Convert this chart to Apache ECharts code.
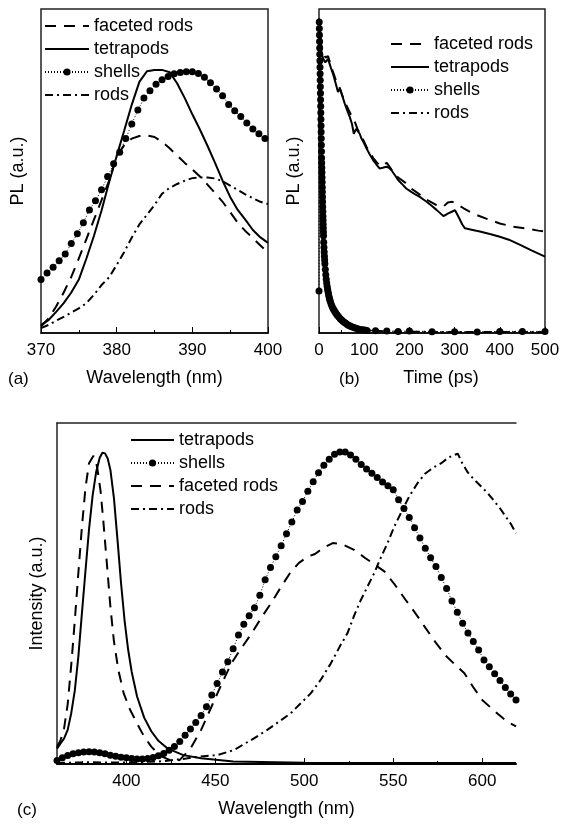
<!DOCTYPE html>
<html><head><meta charset="utf-8">
<script src="https://cdn.jsdelivr.net/npm/echarts@6/dist/echarts.min.js"></script>
<style>html,body{margin:0;padding:0;background:#fff}#c{width:569px;height:825px}</style>
</head><body><div id="c"></div>
<script>
// ---------- panel (a): PL spectra, 370-400 nm ----------
const aWl = [370,371,372,373,374,375,376,377,378,379,380,381,382,383,384,385,386,387,388,389,390,391,392,393,394,395,396,397,398,399,400];
const aFaceted = [2.0,4.5,8.2,12.5,17.3,23,29,35,41,47,54.5,58,60,60.8,61,60.5,59,57,54.8,52.5,50.5,48.3,45.8,43.2,40.5,37.3,34,31.5,29.3,27,24.8];
const aTetra = [2.5,4,6.5,9.2,12.5,16.5,23,30,37.8,46.5,54.6,62.5,70.5,77.5,80.8,81.2,81.2,80.5,77,72.5,67.5,62.8,57.8,52.5,47,42,38,35,31.8,29.5,27.8];
const aRods = [1.5,2.5,3.8,5.0,6.3,7.6,9.2,11.8,14.8,17.2,21,25,29.5,33.5,36.5,39.5,43,44.8,46,47,47.8,48,48,47.7,46.8,45.5,44.2,42.8,41.6,40.5,39.8];
const aShellWl = [370.0,370.8,371.6,372.4,373.2,374.0,374.8,375.6,376.4,377.2,378.0,378.8,379.6,380.4,381.2,382.0,382.8,383.6,384.4,385.2,386.0,386.8,387.6,388.4,389.2,390.0,390.8,391.6,392.4,393.2,394.0,394.8,395.6,396.4,397.2,398.0,398.8,399.6];
const aShell = [16.5,18.5,20.3,22.3,24.4,27.6,30.6,34.0,38.0,40.8,44.2,48.3,52.2,55.8,60.0,64.5,68.8,72.5,74.8,76.8,78.2,79.2,80.0,80.4,80.6,80.6,80.1,78.9,77.2,75.3,73.2,70.5,68.6,66.8,64.8,63.0,61.5,60.0];

// ---------- panel (b): PL decay, 0-500 ps ----------
const bTetraT = [0,3,6,10,14,20,26,31,37,42,46,52,57,63,68,73,77,82,86,90,94,100,105,112,120,127,134,141,149,155,160,168,175,185,193,205,215,223,231,238,250,260,268,275,281,286,295,301,310,317,323,340,356,380,400,420,445,470,500];
const bTetra = [96,90,86,84.5,83.5,84.6,82,80,77,74.4,75.5,73,70.8,68.5,66.7,64.5,61.5,63,63.5,61.5,60,58.5,57,55.2,53.3,52,50.8,51,51.3,51,50.3,48.7,47.2,45.8,44.6,43.5,42.6,42,41.2,40.5,39.2,38,37,36.1,36.5,36.9,37.5,37.9,35.5,33.5,32.3,31.8,31.3,30.5,29.7,28.8,27.2,25.5,23.6];
const bFacetT = [0,5,10,15,20,30,40,45,55,65,72,77,85,95,105,120,135,145,150,160,175,190,200,220,240,260,275,285,295,305,320,340,370,400,430,460,485,500];
const bFacet = [97,89,86,85,85.5,81,77,76,72,69,67,66,63,60.5,57.5,54,51.5,52.2,52.5,50.5,48,46.5,45,43,41,39.5,39,40.3,40.5,39.8,38.5,36.9,35.3,33.8,32.8,32.2,31.6,31.3];
const bShellT = [0,0.5,0.75,1,1.25,1.5,1.75,2,2.25,2.5,2.75,3,3.25,3.5,3.75,4,4.25,4.5,4.75,5,5.25,5.5,5.75,6,6.25,6.5,6.75,7,7.25,7.5,7.75,8,8.25,8.5,8.75,9,9.25,9.5,9.75,10,10.5,11,11.5,12,12.5,13,14,15,16,17,18,19,20,21,22,23,24,25,27,29,31,33,35,37,39,41,44,47,50,53,56,59,62,65,68,71,75,79,83,87,91,96,101,106,125,150,175,200,250,300,350,400,450,500];
const bShell = [13,96,94,92,90,88,86,84,82,80,78,76,74,72,70,68,66,64,62,60,58,56,54,52.5,51,49.5,48,46.5,45,43.5,42,40.5,39,37.5,36,34.8,33.6,32.4,31.2,30,28,26.4,25,23.7,22.5,21.4,19.6,18,16.6,15.4,14.4,13.5,12.7,12,11.3,10.7,10.2,9.7,8.9,8.2,7.6,7.1,6.6,6.2,5.8,5.4,4.9,4.4,4.0,3.6,3.3,3.0,2.7,2.4,2.2,2.0,1.8,1.6,1.4,1.25,1.1,1.0,0.9,0.8,0.7,0.6,0.5,0.6,0.4,0.4,0.3,0.5,0.5,0.5];
const bRodsT = [0,1,2,3,4,5,6,8,10,12,15,20,25,30,40,50,60,70,80,100,150,200,300,500];
const bRods = [97,85,70,58,48,40,34,27,22,19,15.5,12,9.5,8,5.5,3.8,2.8,2.0,1.5,0.9,0.5,0.4,0.3,0.3];

// ---------- panel (c): full spectra, 361-619 nm ----------
const cTetraWl = [361,363,365,367,369,371,373,375,377,379,381,383,385,386.5,388,389.5,391,393,395,397,399,401,403,406,410,414,418,423,432,442,460,500,560,619];
const cTetra = [4.5,6,7.5,10,14.9,21.5,31.5,44.2,56.6,68.8,78.6,85.6,89.8,91.3,91.1,89.6,86.3,78,65.8,53,42,33.5,27,19.8,13.6,9.6,6.8,4.6,2.6,1.7,0.7,0.4,0.3,0.3];
const cFacetWl = [361,363,365,367,369,371,373,375,377,379,381.5,383.5,385.5,387,389,391,393,395.5,398.5,402,406,410,414,419,426,430,436,442,448,454,459,464,470,476,482,487,492,497,502,506,511,516,521,528,534,540,545,551,557,563,568,574,580,585,590,595,600,607,614,619];
const cFacet = [5,7,10.5,17.5,29,42,56,69.5,81,88.2,90.4,87.3,80,71.5,59,46.2,36,27.5,20.7,16,11.9,8,5.1,2.4,0.8,1.2,4.5,10,17,24,29.5,33.5,38,43,47.7,52,56,59,60.8,61.6,63.5,64.8,64.5,62.8,60.5,58.3,56.5,52.5,48.1,43.8,40,35.5,31.5,29,26.6,22.5,18.8,15.5,12.4,11];
const cShellWl = [361,364,367,370,373,376,379,382,385,388,391,394,397,400,403,406,409,412,415,418,421,424,427,430,433,436,439,442,445,448,451,454,457,460,463,466,469,472,475,478,481,484,487,490,493,496,499,502,505,508,511,514,517,520,523,526,529,532,535,538,541,544,547,550,553,556,559,562,565,568,571,574,577,580,583,586,589,592,595,598,601,604,607,610,613,616,619];
const cShell = [1.0,1.8,2.5,3.0,3.3,3.5,3.6,3.5,3.3,3.0,2.6,2.3,2.0,1.8,1.6,1.5,1.5,1.6,1.9,2.4,3.1,4.0,5.1,6.6,8.4,10.3,12.2,14.2,16.8,20.2,23.6,27.0,30.0,33.8,37.8,41.0,43.5,45.8,49.5,54.0,57.6,60.8,64.0,67.5,71.0,74.5,77.0,80.0,82.8,85.4,87.6,89.4,90.8,91.5,91.5,90.6,89.4,87.8,86.5,85.3,84.0,82.7,81.6,80.4,77.5,74.9,72.3,69.3,66.3,63.3,60.5,57.9,54.7,51.5,47.8,44.5,41.3,38.4,35.9,33.4,30.5,28.5,26.5,24.5,22.4,20.5,18.8];
const cRodsWl = [361,380,400,420,432,441.7,451,460.5,466,471.7,479.2,486,492.4,498,503.6,509,514.9,520,524.3,528,531.8,535.5,539.3,543,546.8,550.5,554.3,559,563.7,568,573.1,577,580.6,583.5,586.3,588.5,591.9,595.5,599.4,603,606.9,610,612.5,616,619];
const cRods = [0.3,0.5,0.4,0.8,1.5,2.2,2.6,4.1,5.8,7.5,10,12.5,14.9,17.8,20.7,24.5,29.5,34.5,38.4,43.5,48.1,52,56,60.5,64.8,69.5,73.6,78.5,82.4,85.2,87.1,88.2,89.7,90.5,91,88.5,85.5,83.4,81.4,79.5,77,75,73.1,70.5,67.7];
const cTicks = [400,450,500,550,600];
const cMinorTicks = [375,425,475,525,575];

const legendAB = ['faceted rods','tetrapods','shells','rods'];
const legendC = ['tetrapods','shells','faceted rods','rods'];

// ---------- chart ----------
const FONT = 'Liberation Sans, Arial, Helvetica, sans-serif';
const pairs = (xs, ys) => xs.map((x, i) => [x, ys[i]]);
const styles = {
  'faceted rods': {symbol:'none', lineStyle:{type:[11,8], width:2, color:'#000'}},
  'tetrapods': {symbol:'none', lineStyle:{type:'solid', width:2, color:'#000'}},
  'shells': {symbol:'circle', symbolSize:7, showAllSymbol:true, itemStyle:{color:'#000'}, lineStyle:{type:[1,2], width:1, color:'#000'}},
  'rods': {symbol:'none', lineStyle:{type:[8,4,2,4], width:2, color:'#000'}}
};
function mk(name, g, data){
  return Object.assign({type:'line', name:name, xAxisIndex:g, yAxisIndex:g, data:data,
    color:'#000', silent:true, animation:false, emphasis:{disabled:true}}, JSON.parse(JSON.stringify(styles[name])));
}
const txt = {color:'#000', fontFamily:FONT, fontSize:17};
const lgTxt = {color:'#000', fontFamily:FONT, fontSize:18};
const nameTxt = {color:'#000', fontFamily:FONT, fontSize:18};
const frame = {color:'#222', width:1.5};
function xAx(g, extra){
  return Object.assign({gridIndex:g, type:'value', position:'bottom',
    axisLine:{show:true, onZero:false, lineStyle:{color:'#000', width:1.5}},
    axisTick:{show:true, inside:true, length:6, lineStyle:{color:'#000', width:1}},
    splitLine:{show:false},
    axisLabel:Object.assign({margin:9}, txt),
    nameLocation:'middle', nameGap:36, nameTextStyle:nameTxt}, extra);
}
function yAx(g, name, gap, showLine){
  return {gridIndex:g, type:'value', min:0, max:100, axisLine:{show:!!showLine, lineStyle:frame}, axisTick:{show:false},
    axisLabel:{show:false}, splitLine:{show:false}, name:name, nameLocation:'middle', nameGap:gap, nameTextStyle:nameTxt};
}
function lgItems(names){
  return names.map(n => n === 'shells' ? {name:n} : {name:n, itemStyle:{opacity:0}});
}
function lg(data, left, top, w){
  return {data:lgItems(data), orient:'vertical', left:left, top:top, itemWidth:w, itemHeight:9, itemGap:5,
    padding:0, selectedMode:false, textStyle:lgTxt, inactiveColor:'#000'};
}
const option = {
  backgroundColor:'#fff',
  animation:false,
  grid:[
    {left:41, top:9, width:227, height:324, show:true, borderColor:'#222', borderWidth:1.5},
    {left:319, top:9, width:226, height:324, show:true, borderColor:'#222', borderWidth:1.5},
    {left:57, top:423, width:459, height:341, show:false}
  ],
  xAxis:[
    xAx(0, {min:370, max:400, interval:10, minorTick:{show:true, splitNumber:2, length:3, lineStyle:{color:'#000'}}, name:'Wavelength (nm)'}),
    xAx(1, {min:0, max:500, interval:100, minorTick:{show:true, splitNumber:2, length:3, lineStyle:{color:'#000'}}, name:'Time (ps)',
      nameTextStyle:Object.assign({padding:[0,0,0,18]}, nameTxt)}),
    xAx(2, {min:361, max:619, axisLine:{show:true, onZero:false, lineStyle:{color:'#000', width:2}},
      axisLabel:Object.assign({margin:9, customValues:cTicks}, txt),
      axisTick:{show:true, inside:true, length:6, customValues:cTicks, lineStyle:{color:'#000'}}, name:'Wavelength (nm)'}),
    xAx(2, {min:361, max:619, axisLine:{show:false}, axisLabel:{show:false},
      axisTick:{show:true, inside:true, length:3, customValues:cMinorTicks, lineStyle:{color:'#000'}}}),
    xAx(2, {min:361, max:619, position:'top', axisLine:{show:true, onZero:false, lineStyle:frame}, axisLabel:{show:false}, axisTick:{show:false}})
  ],
  yAxis:[ yAx(0,'PL (a.u.)',14), yAx(1,'PL (a.u.)',16), yAx(2,'Intensity (a.u.)',11,true) ],
  legend:[ lg(legendAB, 44, 17, 44), lg(legendAB, 390, 35, 38), lg(legendC, 130, 431, 43) ],
  graphic:[
    {type:'text', left:8, top:371, style:{text:'(a)', fontSize:17, fontFamily:FONT, fill:'#000'}},
    {type:'text', left:339, top:371, style:{text:'(b)', fontSize:17, fontFamily:FONT, fill:'#000'}},
    {type:'text', left:17, top:802, style:{text:'(c)', fontSize:17, fontFamily:FONT, fill:'#000'}}
  ],
  series:[
    mk('faceted rods',0,pairs(aWl,aFaceted)),
    mk('tetrapods',0,pairs(aWl,aTetra)),
    mk('shells',0,pairs(aShellWl,aShell)),
    mk('rods',0,pairs(aWl,aRods)),
    mk('faceted rods',1,pairs(bFacetT,bFacet)),
    mk('tetrapods',1,pairs(bTetraT,bTetra)),
    mk('shells',1,pairs(bShellT,bShell)),
    mk('rods',1,pairs(bRodsT,bRods)),
    mk('tetrapods',2,pairs(cTetraWl,cTetra)),
    mk('shells',2,pairs(cShellWl,cShell)),
    mk('faceted rods',2,pairs(cFacetWl,cFacet)),
    mk('rods',2,pairs(cRodsWl,cRods))
  ]
};
const chart = echarts.init(document.getElementById('c'), null, {renderer:'canvas'});
chart.setOption(option);
</script></body></html>
